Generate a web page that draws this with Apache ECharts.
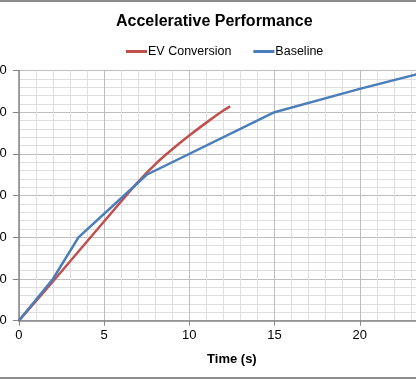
<!DOCTYPE html>
<html>
<head>
<meta charset="utf-8">
<script src="https://cdn.jsdelivr.net/npm/echarts@6/dist/echarts.min.js"></script>
<style>
html,body{margin:0;padding:0;background:#fff;}
#c{position:absolute;left:0;top:0;width:416px;height:380px;}
#bt{position:absolute;left:0;top:0;width:416px;height:0;border-top:2px solid #8c8c8c;}
#bb{position:absolute;left:0;top:377px;width:416px;height:0;border-top:2px solid #8c8c8c;}
</style>
</head>
<body>
<div id="c"></div>
<div id="bt"></div>
<div id="bb"></div>
<script>
const titleText = 'Accelerative Performance';
const xTitle = 'Time (s)';
const seriesNames = ['EV Conversion', 'Baseline'];
const evTime = [0, 1, 2, 3, 4, 5, 6, 7, 8, 9, 10, 11, 12, 12.4];
const evSpeed = [0, 4.7, 9.4, 14.2, 19, 23.8, 28.6, 33.3, 37.5, 41.1, 44.4, 47.5, 50.4, 51.4];
const baseTime = [0, 2, 3.5, 7.5, 15, 20, 25];
const baseSpeed = [0, 10, 20, 35, 50, 55.6, 60.8];
const yTicks = [0, 10, 20, 30, 40, 50, 60];
const xTicks = [0, 5, 10, 15, 20, 25];

const chart = echarts.init(document.getElementById('c'));
const pair = (xs, ys) => xs.map((x, i) => [x, ys[i]]);
chart.setOption({
  animation: false,
  backgroundColor: '#fff',
  title: {
    text: titleText, left: 111, top: 9,
    textStyle: {fontFamily: 'Liberation Sans', fontSize: 16, fontWeight: 'bold', color: '#000'}
  },
  legend: {
    top: 40, left: 121, itemWidth: 21, itemHeight: 3, itemGap: 22,
    icon: 'rect',
    textStyle: {fontFamily: 'Liberation Sans', fontSize: 12.5, color: '#000', padding: [0,0,0,-4]},
    data: seriesNames
  },
  grid: {left: 18.8, right: -29, top: 70.5, bottom: 59.3, containLabel: false, outerBoundsMode: 'none'},
  xAxis: {
    type: 'value', min: xTicks[0], max: xTicks[xTicks.length-1], interval: 5,
    name: xTitle, nameLocation: 'middle', nameGap: 32,
    nameTextStyle: {fontFamily: 'Liberation Sans', fontSize: 13, fontWeight: 'bold', color: '#000'},
    axisLine: {show: true, lineStyle: {color: '#868686', width: 1.5}},
    axisTick: {show: true, length: 5, lineStyle: {color: '#868686'}},
    axisLabel: {fontFamily: 'Liberation Sans', fontSize: 13, color: '#000', margin: 8},
    splitLine: {show: true, lineStyle: {color: '#bdbdbd', width: 1}},
    minorTick: {show: false, splitNumber: 5},
    minorSplitLine: {show: true, lineStyle: {color: '#dedede', width: 1}}
  },
  yAxis: {
    type: 'value', min: yTicks[0], max: yTicks[yTicks.length-1], interval: 10,
    axisLine: {show: true, lineStyle: {color: '#868686', width: 1.5}},
    axisTick: {show: true, length: 6, lineStyle: {color: '#868686'}},
    axisLabel: {fontFamily: 'Liberation Sans', fontSize: 13, color: '#000', margin: 12},
    splitLine: {show: true, lineStyle: {color: '#bdbdbd', width: 1}},
    minorTick: {show: false, splitNumber: 5},
    minorSplitLine: {show: true, lineStyle: {color: '#dedede', width: 1}}
  },
  series: [
    {name: seriesNames[0], type: 'line', data: pair(evTime, evSpeed), smooth: 0.3, showSymbol: false,
     color: '#c0504d', lineStyle: {width: 2.5, color: '#c0504d'}},
    {name: seriesNames[1], type: 'line', data: pair(baseTime, baseSpeed), smooth: false, showSymbol: false,
     color: '#4a7ebb', lineStyle: {width: 2.5, color: '#4a7ebb'}}
  ]
});
</script>
</body>
</html>
